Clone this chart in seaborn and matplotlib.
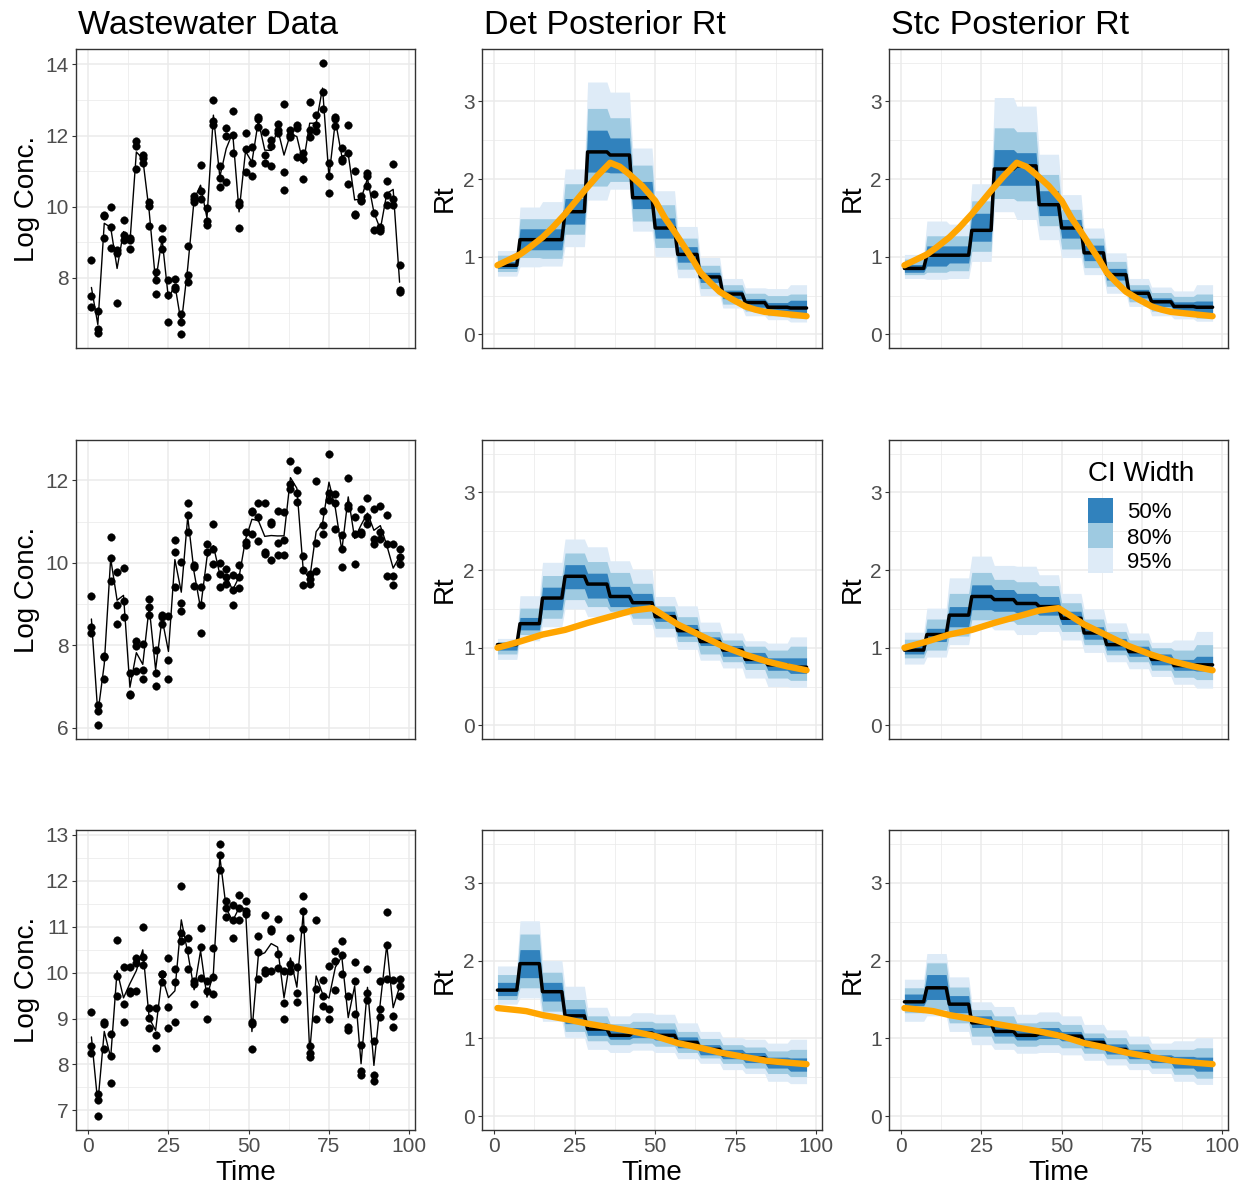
import numpy as np
import pandas as pd
import matplotlib
matplotlib.use("Agg")
import matplotlib.pyplot as plt
from matplotlib.ticker import MultipleLocator
from matplotlib.patches import Rectangle
import seaborn as sns

sns.set_theme(style="white")
plt.rcParams['font.family'] = ['Liberation Sans', 'DejaVu Sans']

# ---------------- data ----------------
obs_times = list(range(1, 98, 2))

ww_row1 = [
    (8.51, 7.49, 7.19), (7.07, 6.55, 6.44), (9.76, 9.73, 9.11), (9.98, 9.43, 8.85), (8.79, 8.70, 7.30),
    (9.62, 9.21, 9.07), (9.12, 9.07, 8.81), (11.85, 11.70, 11.06), (11.44, 11.36, 11.24), (10.12, 10.03, 9.45),
    (8.17, 7.95, 7.55), (9.39, 9.10, 8.82), (7.93, 7.53, 6.76), (7.98, 7.75, 7.70), (6.97, 6.76, 6.41),
    (8.89, 8.07, 7.89), (10.29, 10.21, 10.13), (11.17, 10.43, 10.21), (9.96, 9.59, 9.49), (13.00, 12.42, 12.30),
    (11.15, 10.82, 10.54), (12.21, 12.00, 10.69), (12.70, 12.02, 11.52), (10.13, 10.04, 9.39), (12.07, 11.63, 10.97),
    (11.69, 11.22, 10.85), (12.53, 12.47, 12.23), (12.10, 11.45, 11.22), (11.88, 11.71, 11.15), (12.33, 12.16, 12.08),
    (12.89, 10.98, 10.48), (12.16, 12.02, 11.97), (12.30, 12.22, 11.39), (11.50, 11.35, 10.78), (12.93, 12.16, 11.95),
    (12.59, 12.30, 12.14), (14.05, 13.21, 12.74), (11.24, 10.87, 10.38), (12.51, 12.47, 12.27), (11.64, 11.35, 11.27),
    (12.30, 11.50, 10.64), (11.01, 9.80, 9.76), (10.31, 10.20, 10.15), (10.96, 10.85, 10.57), (10.36, 9.82, 9.34),
    (9.42, 9.36, 9.31), (10.71, 10.34, 10.05), (11.20, 10.21, 10.05), (8.37, 7.65, 7.61)]

ww_row2 = [
    (9.19, 8.44, 8.29), (6.56, 6.42, 6.06), (7.74, 7.71, 7.18), (10.63, 10.13, 9.56), (9.77, 8.98, 8.53),
    (9.88, 9.08, 8.68), (7.34, 6.81, 6.80), (8.10, 7.98, 7.39), (8.03, 7.40, 7.19), (9.12, 8.94, 8.73),
    (7.89, 7.32, 7.02), (8.73, 8.69, 8.53), (8.72, 7.65, 7.19), (10.55, 10.27, 9.42), (10.02, 9.02, 8.83),
    (11.45, 11.15, 10.75), (9.96, 9.90, 9.44), (9.42, 8.98, 8.31), (10.47, 10.27, 9.66), (10.95, 10.33, 9.97),
    (10.00, 9.74, 9.42), (9.84, 9.66, 9.50), (9.70, 9.35, 8.98), (9.94, 9.66, 9.38), (10.75, 10.51, 10.43),
    (11.25, 11.23, 10.69), (11.45, 11.11, 10.52), (11.45, 10.27, 10.21), (10.99, 10.94, 10.06), (11.27, 10.49, 10.20),
    (11.23, 10.55, 10.19), (12.48, 11.92, 11.80), (12.26, 11.69, 11.48), (10.16, 9.82, 9.46), (9.74, 9.62, 9.50),
    (11.98, 10.48, 9.81), (11.27, 10.91, 10.71), (12.65, 11.70, 11.52), (11.68, 11.45, 10.83), (10.67, 10.33, 9.90),
    (12.06, 11.40, 11.34), (11.11, 10.69, 9.98), (11.31, 10.75, 10.69), (11.57, 11.11, 10.94), (11.31, 10.59, 10.47),
    (11.37, 10.75, 10.59), (11.15, 10.45, 9.69), (10.47, 9.69, 9.46), (10.33, 10.15, 9.97)]

ww_row3 = [
    (9.15, 8.40, 8.25), (7.36, 7.23, 6.87), (8.93, 8.89, 8.34), (8.67, 8.18, 7.60), (10.72, 9.92, 9.49),
    (10.12, 9.31, 8.92), (10.13, 9.60, 9.56), (10.32, 10.21, 9.60), (10.99, 10.34, 10.16), (9.22, 9.01, 8.80),
    (9.22, 8.65, 8.35), (9.98, 9.96, 9.80), (10.32, 9.25, 8.80), (10.08, 9.80, 8.93), (11.89, 10.87, 10.69),
    (10.76, 10.49, 10.07), (9.81, 9.76, 9.31), (10.98, 10.56, 9.89), (9.81, 9.60, 8.99), (10.53, 9.91, 9.54),
    (12.81, 12.56, 12.23), (11.56, 11.41, 11.22), (11.47, 11.15, 10.76), (11.69, 11.41, 11.14), (11.57, 11.34, 11.27),
    (8.92, 8.89, 8.34), (10.80, 10.45, 9.87), (11.25, 10.05, 10.00), (10.96, 10.91, 10.03), (11.16, 10.40, 10.11),
    (10.03, 9.34, 8.98), (10.75, 10.18, 10.03), (10.13, 9.56, 9.36), (11.67, 11.34, 10.94), (8.40, 8.25, 8.16),
    (11.15, 9.65, 8.98), (9.85, 9.49, 9.28), (10.14, 9.20, 9.00), (10.48, 10.25, 9.63), (10.70, 10.38, 9.96),
    (9.49, 8.81, 8.76), (10.23, 9.81, 9.09), (8.42, 7.85, 7.78), (10.07, 9.56, 9.41), (8.51, 7.78, 7.65),
    (9.81, 9.20, 9.04), (11.33, 10.61, 9.87), (9.84, 9.05, 8.82), (9.87, 9.71, 9.50)]

# Rt posterior summaries, one value per week (weeks start on days 1, 8, 15, ..., 92)
days = np.arange(1, 98)

det1_hi95 = [1.08, 1.64, 1.71, 2.13, 3.25, 3.12, 2.40, 1.85, 1.39, 0.99, 0.72, 0.60, 0.59, 0.64]
det1_hi80 = [1.02, 1.49, 1.49, 1.94, 2.91, 2.79, 2.18, 1.67, 1.24, 0.89, 0.64, 0.53, 0.50, 0.52]
det1_hi50 = [0.94, 1.36, 1.36, 1.75, 2.63, 2.53, 1.97, 1.50, 1.13, 0.80, 0.57, 0.46, 0.41, 0.44]
det1_med  = [0.89, 1.22, 1.22, 1.58, 2.35, 2.31, 1.76, 1.37, 1.03, 0.74, 0.52, 0.41, 0.35, 0.34]
det1_lo50 = [0.85, 1.09, 1.09, 1.42, 2.09, 2.08, 1.62, 1.24, 0.93, 0.67, 0.46, 0.35, 0.30, 0.28]
det1_lo80 = [0.81, 0.99, 0.98, 1.29, 1.91, 1.97, 1.46, 1.12, 0.84, 0.59, 0.39, 0.30, 0.24, 0.21]
det1_lo95 = [0.75, 0.87, 0.88, 1.13, 1.73, 1.87, 1.33, 1.00, 0.73, 0.50, 0.34, 0.24, 0.19, 0.16]

stc1_hi95 = [1.03, 1.46, 1.42, 1.94, 3.05, 2.94, 2.32, 1.80, 1.37, 1.05, 0.72, 0.61, 0.56, 0.64]
stc1_hi80 = [0.97, 1.27, 1.27, 1.72, 2.66, 2.61, 2.06, 1.61, 1.24, 0.94, 0.64, 0.54, 0.49, 0.52]
stc1_hi50 = [0.90, 1.14, 1.14, 1.56, 2.38, 2.34, 1.85, 1.48, 1.15, 0.85, 0.58, 0.47, 0.42, 0.43]
stc1_med  = [0.85, 1.02, 1.02, 1.34, 2.13, 2.17, 1.67, 1.37, 1.05, 0.77, 0.53, 0.42, 0.36, 0.35]
stc1_lo50 = [0.80, 0.88, 0.92, 1.20, 1.92, 1.92, 1.53, 1.24, 0.95, 0.70, 0.47, 0.36, 0.31, 0.28]
stc1_lo80 = [0.77, 0.80, 0.82, 1.07, 1.75, 1.72, 1.40, 1.10, 0.86, 0.62, 0.42, 0.30, 0.26, 0.21]
stc1_lo95 = [0.72, 0.71, 0.72, 0.94, 1.58, 1.48, 1.22, 0.99, 0.77, 0.53, 0.36, 0.24, 0.20, 0.17]

det2_hi95 = [1.12, 1.67, 2.10, 2.40, 2.30, 2.12, 2.01, 1.66, 1.54, 1.33, 1.19, 1.09, 1.06, 1.14]
det2_hi80 = [1.08, 1.51, 1.93, 2.22, 2.11, 1.97, 1.83, 1.54, 1.40, 1.21, 1.10, 1.02, 0.97, 1.02]
det2_hi50 = [1.05, 1.39, 1.78, 2.07, 1.96, 1.79, 1.70, 1.47, 1.30, 1.14, 1.03, 0.94, 0.87, 0.87]
det2_med  = [1.04, 1.31, 1.64, 1.92, 1.82, 1.66, 1.58, 1.40, 1.22, 1.08, 0.97, 0.85, 0.78, 0.75]
det2_lo50 = [0.97, 1.23, 1.49, 1.76, 1.64, 1.53, 1.49, 1.34, 1.15, 1.03, 0.89, 0.80, 0.71, 0.67]
det2_lo80 = [0.92, 1.17, 1.38, 1.62, 1.53, 1.47, 1.38, 1.25, 1.08, 0.92, 0.82, 0.72, 0.61, 0.58]
det2_lo95 = [0.85, 1.09, 1.27, 1.50, 1.40, 1.42, 1.30, 1.14, 0.98, 0.84, 0.74, 0.61, 0.50, 0.49]

stc2_hi95 = [1.20, 1.51, 1.90, 2.18, 2.06, 2.05, 1.94, 1.70, 1.50, 1.32, 1.19, 1.07, 1.10, 1.21]
stc2_hi80 = [1.11, 1.37, 1.70, 1.97, 1.88, 1.85, 1.80, 1.58, 1.37, 1.21, 1.10, 1.00, 0.97, 1.04]
stc2_hi50 = [1.04, 1.25, 1.53, 1.81, 1.75, 1.70, 1.66, 1.47, 1.27, 1.12, 1.02, 0.92, 0.85, 0.89]
stc2_med  = [0.97, 1.17, 1.42, 1.66, 1.62, 1.57, 1.53, 1.38, 1.19, 1.04, 0.95, 0.85, 0.77, 0.78]
stc2_lo50 = [0.92, 1.08, 1.27, 1.49, 1.47, 1.45, 1.42, 1.30, 1.11, 0.97, 0.89, 0.78, 0.71, 0.70]
stc2_lo80 = [0.87, 0.97, 1.15, 1.36, 1.34, 1.30, 1.30, 1.21, 1.04, 0.91, 0.82, 0.71, 0.62, 0.59]
stc2_lo95 = [0.79, 0.88, 1.04, 1.27, 1.23, 1.17, 1.21, 1.10, 0.94, 0.82, 0.73, 0.63, 0.53, 0.48]

det3_hi95 = [1.93, 2.51, 2.00, 1.67, 1.40, 1.29, 1.33, 1.31, 1.20, 1.09, 1.01, 0.99, 0.94, 0.99]
det3_hi80 = [1.82, 2.34, 1.85, 1.50, 1.29, 1.19, 1.22, 1.20, 1.09, 1.00, 0.92, 0.89, 0.84, 0.86]
det3_hi50 = [1.72, 2.14, 1.72, 1.38, 1.20, 1.12, 1.14, 1.12, 1.02, 0.92, 0.86, 0.82, 0.76, 0.75]
det3_med  = [1.62, 1.96, 1.60, 1.29, 1.12, 1.04, 1.07, 1.04, 0.95, 0.86, 0.79, 0.75, 0.69, 0.67]
det3_lo50 = [1.55, 1.78, 1.48, 1.19, 1.04, 0.99, 1.01, 0.98, 0.88, 0.79, 0.74, 0.69, 0.62, 0.58]
det3_lo80 = [1.50, 1.65, 1.35, 1.09, 0.97, 0.92, 0.94, 0.90, 0.82, 0.75, 0.68, 0.62, 0.55, 0.51]
det3_lo95 = [1.44, 1.52, 1.22, 1.01, 0.86, 0.82, 0.85, 0.82, 0.74, 0.68, 0.60, 0.55, 0.45, 0.42]

stc3_hi95 = [1.76, 2.09, 1.79, 1.47, 1.41, 1.31, 1.34, 1.29, 1.18, 1.11, 1.03, 0.94, 0.97, 1.01]
stc3_hi80 = [1.65, 1.97, 1.66, 1.37, 1.29, 1.20, 1.22, 1.18, 1.07, 1.01, 0.93, 0.86, 0.86, 0.88]
stc3_hi50 = [1.57, 1.82, 1.55, 1.29, 1.18, 1.12, 1.14, 1.09, 1.01, 0.93, 0.86, 0.79, 0.77, 0.76]
stc3_med  = [1.47, 1.65, 1.44, 1.20, 1.09, 1.04, 1.06, 1.03, 0.95, 0.86, 0.80, 0.74, 0.70, 0.67]
stc3_lo50 = [1.42, 1.50, 1.33, 1.14, 1.03, 0.98, 1.00, 0.97, 0.88, 0.80, 0.74, 0.69, 0.62, 0.58]
stc3_lo80 = [1.33, 1.37, 1.20, 1.03, 0.94, 0.90, 0.92, 0.88, 0.81, 0.74, 0.68, 0.62, 0.54, 0.49]
stc3_lo95 = [1.22, 1.29, 1.09, 0.92, 0.86, 0.81, 0.82, 0.79, 0.72, 0.66, 0.60, 0.55, 0.45, 0.41]

# true Rt (read at selected days)
true1_t = [1, 4, 8, 11, 15, 18, 22, 25, 28, 32, 36, 39, 42, 46, 50, 53, 56, 59, 62, 64, 67, 70, 74, 78, 81, 84, 91, 97]
true1_v = [0.89, 0.95, 1.03, 1.12, 1.25, 1.37, 1.55, 1.70, 1.85, 2.04, 2.21, 2.16, 2.06, 1.91, 1.72, 1.50, 1.32,
           1.13, 0.94, 0.80, 0.67, 0.55, 0.45, 0.36, 0.32, 0.29, 0.26, 0.235]
true2_t = [1, 8, 15, 22, 29, 36, 43, 49, 57, 64, 71, 78, 85, 91, 97]
true2_v = [1.00, 1.08, 1.17, 1.23, 1.32, 1.40, 1.48, 1.51, 1.30, 1.16, 1.02, 0.91, 0.82, 0.76, 0.71]
true3_t = [1, 8, 10, 15, 22, 29, 36, 43, 50, 57, 64, 70, 78, 85, 91, 97]
true3_v = [1.39, 1.36, 1.35, 1.30, 1.25, 1.19, 1.14, 1.09, 1.03, 0.94, 0.88, 0.82, 0.76, 0.71, 0.69, 0.67]

titles = ["Wastewater Data", "Det Posterior Rt", "Stc Posterior Rt"]
ci_labels = ["50%", "80%", "95%"]
ci_colors = {"50%": "#3182BD", "80%": "#9ECAE1", "95%": "#DEEBF7"}

# ---------------- layout ----------------
W, H = 1252, 1192
fig = plt.figure(figsize=(W / 100, H / 100), dpi=100)
fig.patch.set_facecolor("white")

col_l = [76, 482, 889]
col_r = [415, 822, 1228]
row_t = [49, 440, 830]
row_b = [348, 739, 1130]

axes = [[None] * 3 for _ in range(3)]
for r in range(3):
    for c in range(3):
        axes[r][c] = fig.add_axes([col_l[c] / W, 1 - row_b[r] / H,
                                   (col_r[c] - col_l[c]) / W, (row_b[r] - row_t[r]) / H])

GRID = "#EBEBEB"
BORDER = "#333333"


def style(ax, bottom):
    ax.set_facecolor("white")
    for s in ax.spines.values():
        s.set_color(BORDER)
        s.set_linewidth(1.0)
        s.set_visible(True)
    ax.set_axisbelow(True)
    ax.grid(True, which="major", color=GRID, linewidth=1.1)
    ax.grid(True, which="minor", color=GRID, linewidth=0.55)
    ax.xaxis.set_major_locator(MultipleLocator(25))
    ax.xaxis.set_minor_locator(MultipleLocator(12.5))
    ax.set_xlim(-3.8, 101.8)
    ax.tick_params(axis="both", which="major", length=2.75, width=0.8, color=BORDER,
                   labelsize=15, labelcolor="#4D4D4D", pad=2.5, left=True, bottom=True)
    ax.tick_params(axis="both", which="minor", length=0)
    if not bottom:
        ax.tick_params(axis="x", which="major", length=0, labelbottom=False)
        ax.set_xlabel("")
    else:
        ax.set_xlabel("Time", fontsize=20, color="black")
        ax.xaxis.set_label_coords(0.5, -0.10)


# wastewater column
ww_rows = [ww_row1, ww_row2, ww_row3]
ww_major = [2, 2, 1]
for r in range(3):
    ax = axes[r][0]
    df = pd.DataFrame([(t, v) for t, trip in zip(obs_times, ww_rows[r]) for v in trip],
                      columns=["time", "conc"])
    sns.lineplot(data=df, x="time", y="conc", errorbar=None, color="black", linewidth=1.0, ax=ax)
    sns.scatterplot(data=df, x="time", y="conc", color="black", s=30, edgecolor="black",
                    linewidth=0.3, ax=ax, zorder=3)
    ax.yaxis.set_major_locator(MultipleLocator(ww_major[r]))
    ax.yaxis.set_minor_locator(MultipleLocator(ww_major[r] / 2))
    style(ax, r == 2)
    ax.set_ylabel("Log Conc.", fontsize=20, color="black")
    ax.yaxis.set_label_coords(-0.106, 0.5)

# Rt columns
week_idx = (days - 1) // 7
rt_sets = {
    (0, 1): (det1_lo95, det1_lo80, det1_lo50, det1_med, det1_hi50, det1_hi80, det1_hi95),
    (0, 2): (stc1_lo95, stc1_lo80, stc1_lo50, stc1_med, stc1_hi50, stc1_hi80, stc1_hi95),
    (1, 1): (det2_lo95, det2_lo80, det2_lo50, det2_med, det2_hi50, det2_hi80, det2_hi95),
    (1, 2): (stc2_lo95, stc2_lo80, stc2_lo50, stc2_med, stc2_hi50, stc2_hi80, stc2_hi95),
    (2, 1): (det3_lo95, det3_lo80, det3_lo50, det3_med, det3_hi50, det3_hi80, det3_hi95),
    (2, 2): (stc3_lo95, stc3_lo80, stc3_lo50, stc3_med, stc3_hi50, stc3_hi80, stc3_hi95),
}
truth = [(true1_t, true1_v), (true2_t, true2_v), (true3_t, true3_v)]

for (r, c), (lo95, lo80, lo50, med, hi50, hi80, hi95) in rt_sets.items():
    ax = axes[r][c]
    d = lambda w: np.asarray(w)[week_idx]
    ax.fill_between(days, d(lo95), d(hi95), color=ci_colors["95%"], linewidth=0, zorder=1)
    ax.fill_between(days, d(lo80), d(hi80), color=ci_colors["80%"], linewidth=0, zorder=1.1)
    ax.fill_between(days, d(lo50), d(hi50), color=ci_colors["50%"], linewidth=0, zorder=1.2)
    sns.lineplot(x=days, y=d(med), color="black", linewidth=2.5, ax=ax, zorder=2)
    tt, tv = truth[r]
    sns.lineplot(x=tt, y=tv, color="orange", linewidth=4.6, ax=ax, zorder=3,
                 solid_capstyle="round", solid_joinstyle="round")
    ax.set_ylim(-0.175, 3.675)
    ax.yaxis.set_major_locator(MultipleLocator(1))
    ax.yaxis.set_minor_locator(MultipleLocator(0.5))
    style(ax, r == 2)
    ax.set_ylabel("Rt", fontsize=20, color="black")
    ax.yaxis.set_label_coords(-0.07, 0.5)

# titles
for c in range(3):
    fig.text((col_l[c] + 2) / W, 1 - 34 / H, titles[c], fontsize=24.5, color="black",
             ha="left", va="baseline")

# legend (drawn as keys + labels, in figure pixel positions)
key_x, key_top, key_size = 1088, 498, 25
fig.text(key_x / W, 1 - 481 / H, "CI Width", fontsize=20, color="black",
         ha="left", va="baseline")
for i, lab in enumerate(ci_labels):
    y0 = key_top + i * key_size
    fig.patches.append(Rectangle((key_x / W, 1 - (y0 + key_size) / H), key_size / W, key_size / H,
                                 transform=fig.transFigure, facecolor=ci_colors[lab],
                                 edgecolor="none", zorder=5))
    fig.text(1127 / W, 1 - (y0 + key_size / 2) / H, lab, fontsize=16, color="black",
             ha="left", va="center_baseline")

fig.savefig("out.png", dpi=100, facecolor="white")
